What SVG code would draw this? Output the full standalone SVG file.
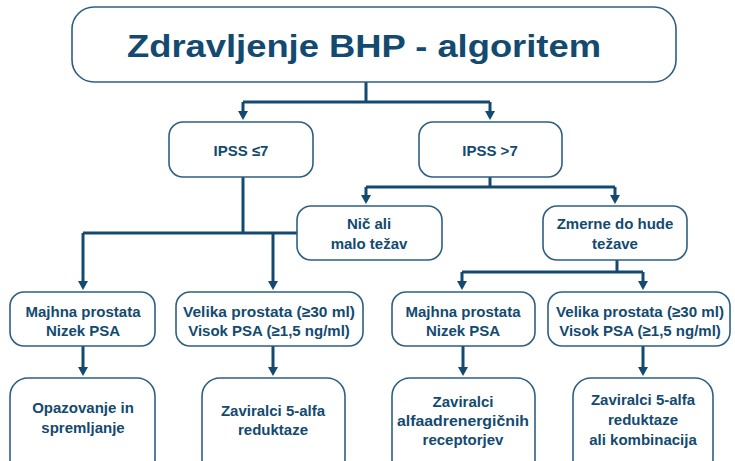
<svg xmlns="http://www.w3.org/2000/svg" width="735" height="461" viewBox="0 0 735 461">
<defs>
<style>
.box{fill:#fff;stroke:#2e5f82;stroke-width:1.6}
.t{font-family:"Liberation Sans",Arial,sans-serif;font-weight:bold;fill:#134a70;font-size:15px;text-anchor:middle}
.c{fill:none;stroke:#154a70;stroke-width:3}
</style>
</defs>
<rect width="735" height="461" fill="#fff"/>
<g id="connectors">
<path class="c" d="M366,82 V102 M243,102 H490"/>
<path class="c" d="M243,102 V112 M490,102 V112"/>
<path class="c" d="M243,177 V233 M83,233 H297 M83,233 V282 M273,233 V282"/>
<path class="c" d="M490,177 V187 M366,187 H615 M366,187 V196 M615,187 V196"/>
<path class="c" d="M617,260 V272 M462,272 H643 M462,272 V282 M643,272 V282"/>
<path class="c" d="M83,346 V368 M273,346 V368 M463,346 V368 M643,346 V368"/>
<g fill="#154a70">
<path d="M238,111 H248 L243,120 z"/>
<path d="M485,111 H495 L490,120 z"/>
<path d="M361,195 H371 L366,204 z"/>
<path d="M610,195 H620 L615,204 z"/>
<path d="M78,281 H88 L83,290 z"/>
<path d="M268,281 H278 L273,290 z"/>
<path d="M457,281 H467 L462,290 z"/>
<path d="M638,281 H648 L643,290 z"/>
<path d="M78,367 H88 L83,376 z"/>
<path d="M268,367 H278 L273,376 z"/>
<path d="M458,367 H468 L463,376 z"/>
<path d="M638,367 H648 L643,376 z"/>
</g>
</g>
<g id="title">
<rect class="box" x="72" y="7" width="604" height="75" rx="22"/>
<text class="t" x="364" y="57" style="font-size:31px" textLength="474" lengthAdjust="spacingAndGlyphs">Zdravljenje BHP - algoritem</text>
</g>
<g id="ipss-low">
<rect class="box" x="169" y="122" width="144" height="55" rx="14"/>
<text class="t" x="241" y="156">IPSS ≤7</text>
</g>
<g id="ipss-high">
<rect class="box" x="419" y="122" width="143" height="55" rx="14"/>
<text class="t" x="490" y="156">IPSS &gt;7</text>
</g>
<g id="nic-ali">
<rect class="box" x="297" y="206" width="145" height="54" rx="14"/>
<text class="t" x="369" y="229">Nič ali</text>
<text class="t" x="369" y="249">malo težav</text>
</g>
<g id="zmerne">
<rect class="box" x="543" y="206" width="144" height="54" rx="14"/>
<text class="t" x="615" y="229">Zmerne do hude</text>
<text class="t" x="615" y="249">težave</text>
</g>
<g id="majhna-1">
<rect class="box" x="10" y="292" width="145" height="54" rx="14"/>
<text class="t" x="83" y="317">Majhna prostata</text>
<text class="t" x="83" y="336">Nizek PSA</text>
</g>
<g id="velika-1">
<rect class="box" x="176" y="292" width="187" height="54" rx="14"/>
<text class="t" x="269" y="317" textLength="172" lengthAdjust="spacingAndGlyphs">Velika prostata (≥30 ml)</text>
<text class="t" x="269" y="336">Visok PSA (≥1,5 ng/ml)</text>
</g>
<g id="majhna-2">
<rect class="box" x="392" y="292" width="143" height="54" rx="14"/>
<text class="t" x="463" y="317">Majhna prostata</text>
<text class="t" x="463" y="336">Nizek PSA</text>
</g>
<g id="velika-2">
<rect class="box" x="548" y="292" width="182" height="54" rx="14"/>
<text class="t" x="640" y="317" textLength="168" lengthAdjust="spacingAndGlyphs">Velika prostata (≥30 ml)</text>
<text class="t" x="640" y="336">Visok PSA (≥1,5 ng/ml)</text>
</g>
<g id="opazovanje">
<rect class="box" x="10" y="378" width="145" height="100" rx="18"/>
<text class="t" x="83" y="413">Opazovanje in</text>
<text class="t" x="83" y="433">spremljanje</text>
</g>
<g id="zaviralci-1">
<rect class="box" x="202" y="378" width="143" height="100" rx="18"/>
<text class="t" x="273" y="416">Zaviralci 5-alfa</text>
<text class="t" x="273" y="435">reduktaze</text>
</g>
<g id="zaviralci-alfa">
<rect class="box" x="392" y="378" width="143" height="100" rx="18"/>
<text class="t" x="463" y="407">Zaviralci</text>
<text class="t" x="463" y="426" textLength="132" lengthAdjust="spacingAndGlyphs">alfaadrenergičnih</text>
<text class="t" x="463" y="445">receptorjev</text>
</g>
<g id="zaviralci-2">
<rect class="box" x="573" y="378" width="140" height="100" rx="18"/>
<text class="t" x="643" y="405">Zaviralci 5-alfa</text>
<text class="t" x="643" y="425">reduktaze</text>
<text class="t" x="643" y="445">ali kombinacija</text>
</g>
</svg>
